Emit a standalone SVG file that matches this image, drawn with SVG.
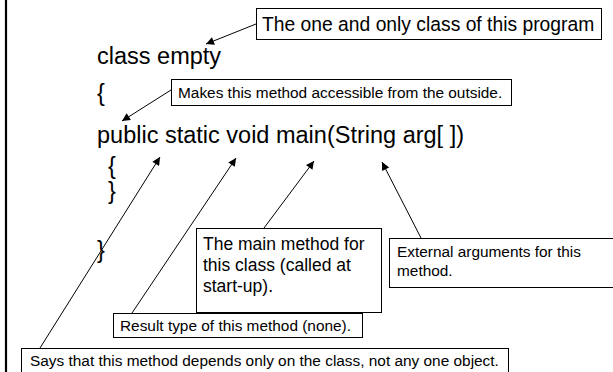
<svg xmlns="http://www.w3.org/2000/svg" width="613" height="372" viewBox="0 0 613 372">
<defs>
<style>
.code{font-family:"Liberation Sans",Arial,sans-serif;font-size:23.5px;fill:#000}
.t19{font-family:"Liberation Sans",Arial,sans-serif;font-size:19.3px;fill:#000}
.t17{font-family:"Liberation Sans",Arial,sans-serif;font-size:17.5px;fill:#000}
.t15{font-family:"Liberation Sans",Arial,sans-serif;font-size:15.4px;fill:#000}
.box{fill:#fff;stroke:#000;stroke-width:1}
.conn{stroke:#000;stroke-width:1;fill:none;marker-end:url(#ah)}
</style>
<marker id="ah" viewBox="0 0 10 10" refX="10" refY="5" markerWidth="10" markerHeight="8" markerUnits="userSpaceOnUse" orient="auto">
<path d="M0,0 L10,5 L0,10 z" fill="#000"/>
</marker>
</defs>
<rect width="613" height="372" fill="#fff"/>
<line x1="6" y1="0" x2="6" y2="372" stroke="#000" stroke-width="2.2"/>
<g id="code">
<text class="code" x="97" y="64">class empty</text>
<text class="code" x="97" y="101">{</text>
<text class="code" x="97" y="143">public static void main(String arg[ ])</text>
<text class="code" x="108" y="174">{</text>
<text class="code" x="108" y="199">}</text>
<text class="code" x="97" y="258">}</text>
</g>
<g id="connectors">
<line class="conn" x1="256" y1="24" x2="206" y2="44"/>
<line class="conn" x1="171" y1="90" x2="122" y2="121"/>
<line class="conn" x1="40" y1="348" x2="160" y2="157"/>
<line class="conn" x1="132" y1="313" x2="236" y2="158"/>
<line class="conn" x1="264" y1="228" x2="314" y2="161"/>
<line class="conn" x1="421" y1="238" x2="382" y2="162"/>
</g>
<g id="n-class">
<rect class="box" x="256.5" y="8.5" width="345" height="31"/>
<text class="t19" x="262" y="31">The one and only class of this program</text>
</g>
<g id="n-public">
<rect class="box" x="171.5" y="79.5" width="340" height="26"/>
<text class="t15" x="178" y="98">Makes this method accessible from the outside.</text>
</g>
<g id="n-main">
<rect class="box" x="196.5" y="228.5" width="185" height="84"/>
<text class="t17" x="203" y="250">The main method for</text>
<text class="t17" x="203" y="271">this class (called at</text>
<text class="t17" x="203" y="292">start-up).</text>
</g>
<g id="n-args">
<rect class="box" x="389.5" y="238.5" width="240" height="49"/>
<text class="t15" x="397" y="257">External arguments for this</text>
<text class="t15" x="397" y="276">method.</text>
</g>
<g id="n-void">
<rect class="box" x="113.5" y="313.5" width="249" height="24"/>
<text class="t15" x="120" y="331">Result type of this method (none).</text>
</g>
<g id="n-static">
<rect class="box" x="21.5" y="348.5" width="487" height="30"/>
<text class="t15" x="30" y="366">Says that this method depends only on the class, not any one object.</text>
</g>
</svg>
